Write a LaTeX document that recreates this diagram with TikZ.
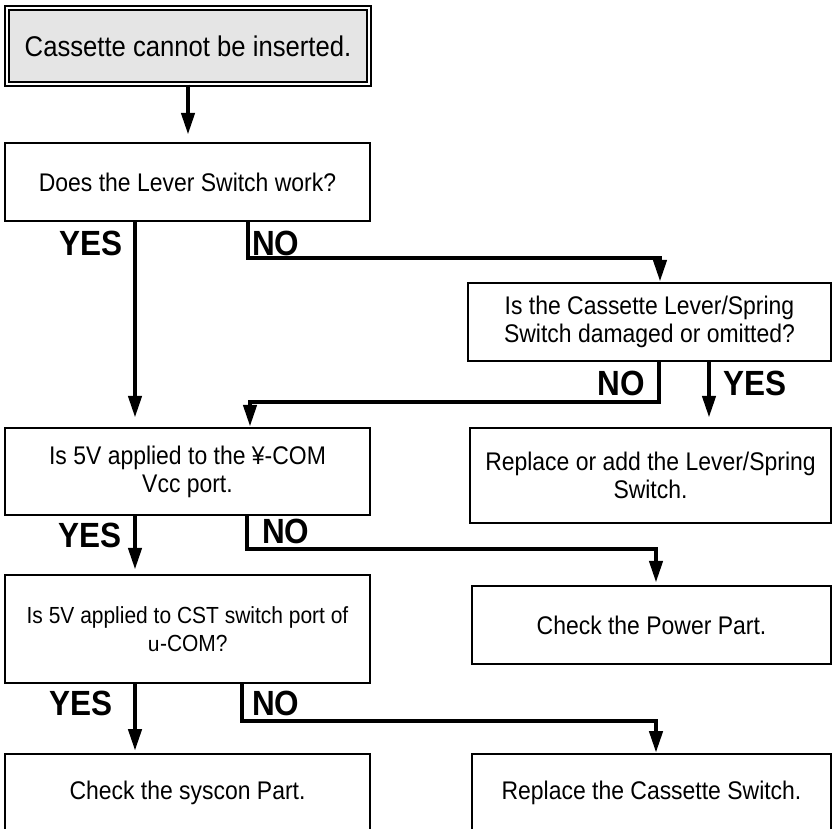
\documentclass[tikz,border=0pt]{standalone}
\usepackage{fontspec}
\usepackage{graphicx}
\setmainfont{Liberation Sans}[FakeStretch=0.9]
\newfontfamily\monofont{Liberation Mono}
\usetikzlibrary{arrows.meta,calc}

\tikzset{
  box/.style={draw, line width=2.4pt, rectangle, inner sep=0pt, align=center,
              font=\fontsize{25.5}{28}\selectfont},
  startbox/.style={draw, line width=1.3pt, double=white, double distance=2.6pt,
              fill=gray!20, rectangle, inner sep=0pt, align=center,
              font=\fontsize{28.5}{30}\selectfont},
  conn/.style={line width=4.4pt, line join=miter,
               -{Triangle[width=13pt,length=22pt]}},
  answer/.style={inner sep=0pt, font=\bfseries\fontsize{35}{35}\selectfont},
}

\begin{document}
\begin{tikzpicture}[x=1pt,y=-1pt]
  \useasboundingbox (0,0) rectangle (832,829);
  \clip (0,0) rectangle (832,829);

  % boxes
  \node[startbox, minimum width=362pt, minimum height=76pt] (t) at (188,46)
    {Cassette cannot be inserted.};
  \node[box, minimum width=365pt, minimum height=78pt] (b2) at (187.5,182)
    {Does the Lever Switch work?};
  \node[box, minimum width=363pt, minimum height=78pt] (b4) at (649.5,322)
    {Is the Cassette Lever/Spring\\Switch damaged or omitted?};
  \node[box, minimum width=365pt, minimum height=87pt] (b3) at (187.5,471.5)
    {Is 5V applied to the ¥-COM\\Vcc port.};
  \node[box, minimum width=361pt, minimum height=95pt] (b5) at (650.5,475.5)
    {Replace or add the Lever/Spring\\Switch.};
  \node[box, minimum width=365pt, minimum height=108pt,
        font=\fontsize{23.3}{28}\selectfont] (b6) at (187.5,629)
    {Is 5V applied to CST switch port of\\{\monofont\fontsize{21}{28}\selectfont u}-COM?};
  \node[box, minimum width=359pt, minimum height=78pt] (b7) at (651.5,625)
    {Check the Power Part.};
  \node[box, anchor=north, minimum width=365pt, text height=45pt, text depth=40pt]
    (b8) at (187.5,753) {Check the syscon Part.};
  \node[box, anchor=north, minimum width=359pt, text height=45pt, text depth=40pt]
    (b9) at (651.5,753) {Replace the Cassette Switch.};

  % lanes and corners of the connectors
  \coordinate (yx) at (135,0);
  \coordinate (y2) at (709,0);
  \coordinate (n1a) at (248,258);  \coordinate (n1b) at (660,258);
  \coordinate (n2a) at (659,402);  \coordinate (n2b) at (250,402);
  \coordinate (n3a) at (247,549);  \coordinate (n3b) at (656,549);
  \coordinate (n4a) at (242,721);  \coordinate (n4b) at (656,721);

  % connectors
  \draw[conn, shorten >=7pt] (t.south) -- (t.south |- b2.north);
  \draw[conn, shorten >=9pt] (b2.south -| yx) -- (b3.north -| yx);
  \draw[conn] (b2.south -| n1a) -- (n1a) -- (n1b) -- (b4.north -| n1b);
  \draw[conn] (b4.south -| n2a) -- (n2a) -- (n2b) -- (b3.north -| n2b);
  \draw[conn, shorten >=9pt] (b4.south -| y2) -- (b5.north -| y2);
  \draw[conn, shorten >=4pt] (b3.south -| yx) -- (b6.north -| yx);
  \draw[conn, shorten >=2pt] (b3.south -| n3a) -- (n3a) -- (n3b) -- (b7.north -| n3b);
  \draw[conn, shorten >=2pt] (b6.south -| yx) -- (b8.north -| yx);
  \draw[conn] (b6.south -| n4a) -- (n4a) -- (n4b) -- (b9.north -| n4b);

  % answers
  \node[answer, anchor=base east] (a1) at (123,255) {YES};
  \node[answer, anchor=base west] (a2) at (252,255) {NO};
  \node[answer, anchor=base east] (a3) at (645,395) {NO};
  \node[answer, anchor=base west] (a4) at (723,395) {YES};
  \node[answer, anchor=base east] (a5) at (122,547) {YES};
  \node[answer, anchor=base west] (a6) at (262,543) {NO};
  \node[answer, anchor=base east] (a7) at (113,715) {YES};
  \node[answer, anchor=base west] (a8) at (252,715) {NO};
\end{tikzpicture}
\end{document}
